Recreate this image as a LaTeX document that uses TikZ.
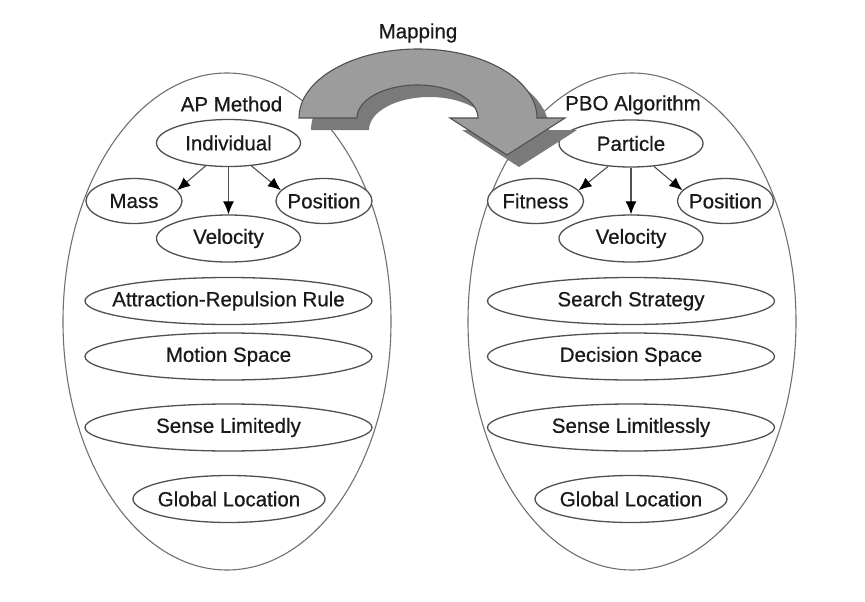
\documentclass[tikz,border=0pt]{standalone}
\usepackage{fontspec}
\setmainfont{Liberation Sans}[FakeBold=0.6]
\usetikzlibrary{shapes.geometric,arrows.meta}
\newcommand{\zt}[1]{\makebox[0pt]{#1}}
\definecolor{txt}{HTML}{1A1A1A}
\definecolor{ln}{HTML}{505050}
\definecolor{bigln}{HTML}{707070}
\definecolor{arrfill}{HTML}{9C9C9C}
\definecolor{arrshadow}{HTML}{7A7A7A}
\begin{document}
\begin{tikzpicture}[x=1pt,y=-1pt,
  every node/.style={text=txt,font=\fontsize{20.5}{24}\selectfont},
  bigell/.style={ellipse,draw=bigln,line width=1.1pt,minimum width=328pt,minimum height=497pt,inner sep=0pt},
  ell/.style={ellipse,draw=ln,line width=1.3pt,fill=white,inner sep=0pt,minimum height=47pt},
  smallell/.style={ell,minimum width=96pt,minimum height=45pt},
  midell/.style={ell,minimum width=144pt},
  wideell/.style={ell,minimum width=287pt},
  globell/.style={ell,minimum width=192pt},
  lbl/.style={inner sep=0pt},
  conn/.style={draw=ln,line width=1.1pt,-{Latex[length=13pt,width=11pt,fill=black,color=black]}}
]
\useasboundingbox (0,0) rectangle (865,602);
% big containers
\node[bigell] (L) at (227,321.5) {};
\node[bigell] (R) at (632,321.5) {};
% left side
\node[lbl] (ap) at (231.5,104) {AP Method};
\node[midell] (ind) at (228.5,143) {\zt{Individual}};
\node[smallell] (mass) at (134,201) {\zt{Mass}};
\node[smallell] (posl) at (324,201) {\zt{Position}};
\node[midell] (vell) at (228.5,238.5) {\zt{Velocity}};
\node[wideell] (arr) at (228.5,301) {\zt{Attraction-Repulsion Rule}};
\node[wideell] (ms) at (228.5,356.5) {\zt{Motion Space}};
\node[wideell] (sl) at (228.5,427.5) {\zt{Sense Limitedly}};
\node[globell] (gll) at (229,499) {\zt{Global Location}};
\draw[conn] (ind.225) -- (mass.14);
\draw[conn] (ind.south) -- (vell.north);
\draw[conn] (ind.315) -- (posl.166);
% right side
\node[lbl] (pbo) at (633,105) {PBO Algorithm};
\node[midell] (par) at (631,143.5) {\zt{Particle}};
\node[smallell] (fit) at (535.5,201) {\zt{Fitness}};
\node[smallell] (posr) at (725.5,201) {\zt{Position}};
\node[midell] (velr) at (631,238.5) {\zt{Velocity}};
\node[wideell] (ss) at (631,301) {\zt{Search Strategy}};
\node[wideell] (ds) at (631,356.5) {\zt{Decision Space}};
\node[wideell] (sll) at (631,427.5) {\zt{Sense Limitlessly}};
\node[globell] (glr) at (631,499) {\zt{Global Location}};
\draw[conn] (par.225) -- (fit.14);
\draw[conn] (par.south) -- (velr.north);
\draw[conn] (par.315) -- (posr.166);
% mapping arrow
\node[lbl] (map) at (418,33) {Mapping};
\fill[arrshadow] (311,130) arc[start angle=180,end angle=0,x radius=119pt,y radius=69pt]
  -- (577,130) -- (519,167) -- (462,130) -- (490,130)
  arc[start angle=0,end angle=180,x radius=60.5pt,y radius=33pt] -- cycle;
\draw[draw=ln,line width=1.1pt,fill=arrfill,line join=miter] (299,118) arc[start angle=180,end angle=0,x radius=119pt,y radius=69pt]
  -- (565,118) -- (507,155) -- (450,118) -- (478,118)
  arc[start angle=0,end angle=180,x radius=60.5pt,y radius=33pt] -- cycle;
\end{tikzpicture}
\end{document}
